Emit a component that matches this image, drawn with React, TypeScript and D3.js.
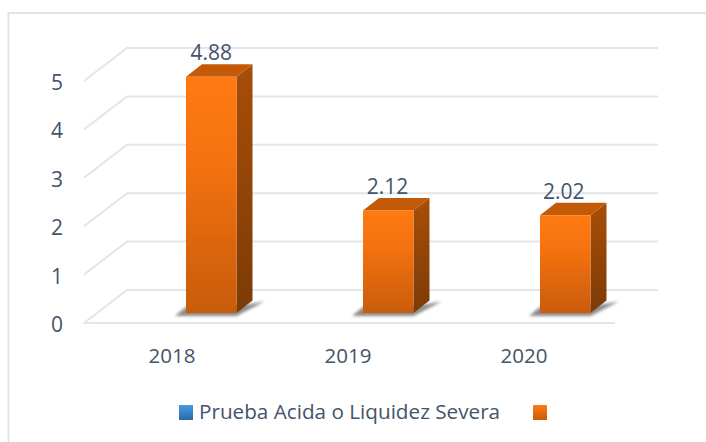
import React from "react";
import * as d3 from "d3";

const categories = ["2018", "2019", "2020"];
const values = [4.88, 2.12, 2.02];
const valueLabels = ["4.88", "2.12", "2.02"];
const yTicks = [0, 1, 2, 3, 4, 5];
const legendName = "Prueba Acida o Liquidez Severa";

const W = 706, H = 442;
const FONT = "'Open Sans', sans-serif";
const TXT = "#44546a";
const GRID = "#e1e5ec";

const frontL = 84, frontR = 615;
const dx = 43, dy = -33;
const y0Front = 323;
const y = d3.scaleLinear().domain([0, 5]).range([y0Front, 81]);
const x = d3.scaleBand<string>().domain(categories).range([frontL, frontR]);
const xLabel = d3.scaleBand<string>().domain(categories).range([frontL, frontR - 3]);
const barW = 50.5;
const barDepthX = 16, barDepthY = -12.5;
const barOffX = 13.5;
const barOffY = -10;

const pts = (a: number[][]) => a.map((p) => p.join(",")).join(" ");

export default function App() {
  return (
    <svg width={W} height={H} style={{ position: "absolute", left: 0, top: 0, background: "#fff" }}>
      <defs>
        <linearGradient id="front" x1="0" y1="0" x2="0" y2="1">
          <stop offset="0" stopColor="#ff7a12" />
          <stop offset="0.35" stopColor="#f5720f" />
          <stop offset="1" stopColor="#c85c0c" />
        </linearGradient>
        <linearGradient id="side" x1="0" y1="0" x2="0" y2="1">
          <stop offset="0" stopColor="#a84e08" />
          <stop offset="1" stopColor="#7c3b06" />
        </linearGradient>
        <linearGradient id="lgBlue" x1="0" y1="0" x2="0" y2="1">
          <stop offset="0" stopColor="#479be3" />
          <stop offset="1" stopColor="#2c6aa6" />
        </linearGradient>
        <linearGradient id="lgOrange" x1="0" y1="0" x2="0" y2="1">
          <stop offset="0" stopColor="#ff7a12" />
          <stop offset="1" stopColor="#c85c0c" />
        </linearGradient>
        <filter id="blur" x="-30%" y="-60%" width="160%" height="220%">
          <feGaussianBlur stdDeviation="1.8" />
        </filter>
        <filter id="soft" x="-5%" y="-5%" width="110%" height="110%">
          <feGaussianBlur stdDeviation="0.4" />
        </filter>
      </defs>

      <path d={`M8.5 ${H} V13 H${W}`} fill="none" stroke="#e1e5ea" strokeWidth={2} />

      <g filter="url(#soft)">
        {yTicks.map((t) => {
          const yy = y(t);
          return (
            <polyline
              key={t}
              fill="none"
              stroke={GRID}
              strokeWidth={2}
              points={pts([[frontL, yy], [frontL + dx, yy + dy], [frontR + dx, yy + dy]])}
            />
          );
        })}
        <line x1={frontL} x2={frontR} y1={y0Front} y2={y0Front} stroke={GRID} strokeWidth={2} />
      </g>

      {yTicks.map((t) => (
        <text key={t} x={57} y={y(t) + 9} textAnchor="middle" fontFamily={FONT} fontSize={21} fill={TXT}>
          {t}
        </text>
      ))}

      {categories.map((c, i) => {
        const left = (x(c) as number) + x.bandwidth() / 2 + barOffX;
        const right = left + barW;
        const bottom = y0Front + barOffY;
        const top = y(values[i]) + barOffY;
        return (
          <g key={c}>
            <polygon
              points={pts([[left - 11, bottom + 3], [right, bottom + 3], [right + barDepthX + 12, bottom + barDepthY + 1], [right + 8, bottom - 8], [left, bottom - 6]])}
              fill="#444"
              opacity={0.62}
              filter="url(#blur)"
            />
            <polygon
              points={pts([[right, top], [right + barDepthX, top + barDepthY], [right + barDepthX, bottom + barDepthY], [right, bottom]])}
              fill="url(#side)"
            />
            <polygon
              points={pts([[left, top], [left + barDepthX, top + barDepthY], [right + barDepthX, top + barDepthY], [right, top]])}
              fill="#c35a08"
            />
            <rect x={left} y={top} width={barW} height={bottom - top} fill="url(#front)" />
            <text
              x={left + barW / 2 - i * 0.75}
              y={top + barDepthY - 4}
              textAnchor="middle"
              fontFamily={FONT}
              fontSize={21}
              fill={TXT}
            >
              {valueLabels[i]}
            </text>
            <text
              x={(xLabel(c) as number) + xLabel.bandwidth() / 2}
              y={363}
              textAnchor="middle"
              fontFamily={FONT}
              fontSize={20.5}
              fill={TXT}
            >
              {c}
            </text>
          </g>
        );
      })}

      <rect x={179} y={405} width={14} height={15} fill="url(#lgBlue)" />
      <text x={199} y={419} fontFamily={FONT} fontSize={20.7} fill={TXT}>
        {legendName}
      </text>
      <rect x={533} y={405} width={14} height={15} fill="url(#lgOrange)" />
    </svg>
  );
}
